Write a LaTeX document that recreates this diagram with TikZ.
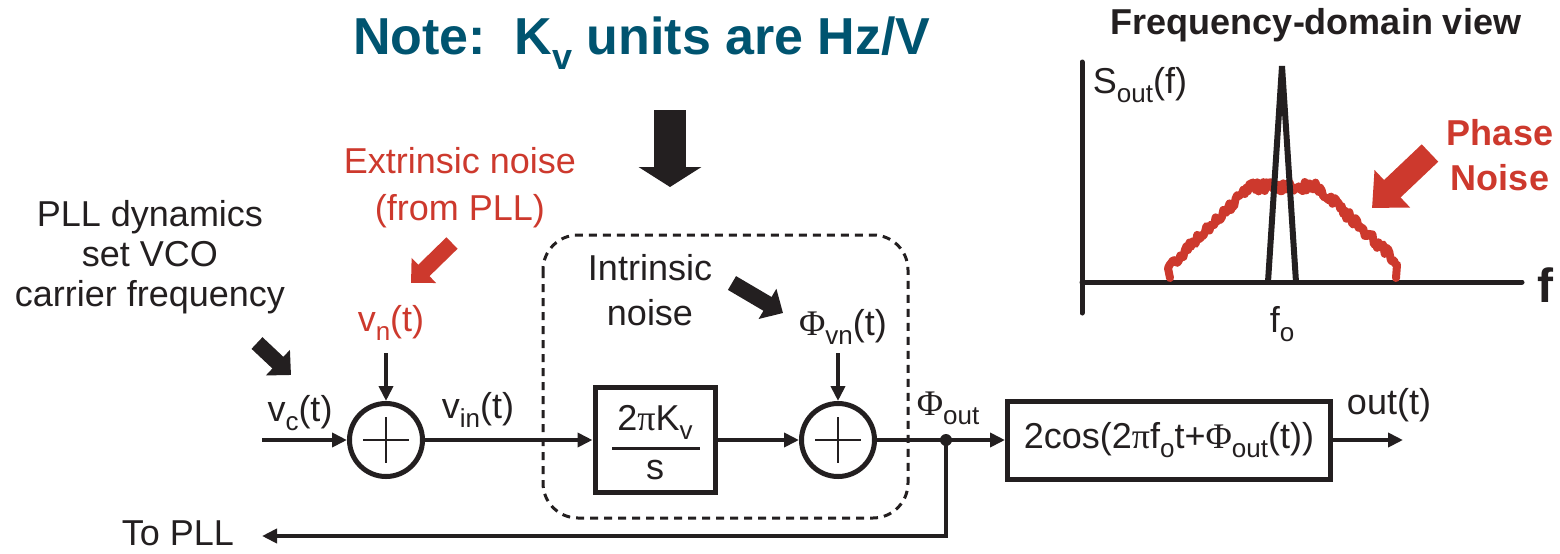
\documentclass[tikz,border=0pt]{standalone}
\usepackage{fontspec}
\setmainfont{Liberation Sans}
\newfontfamily\grk{Liberation Serif}
\usepackage{tikz}
\usetikzlibrary{arrows.meta,positioning}
\definecolor{ink}{RGB}{35,31,32}
\definecolor{noisered}{RGB}{205,57,45}
\definecolor{noteteal}{RGB}{0,84,112}
\newcommand{\sub}[1]{\raisebox{-4.5pt}{\fontsize{13}{13}\selectfont #1}}
\newcommand{\tsub}[1]{\raisebox{-7.5pt}{\fontsize{18}{18}\selectfont #1}}
\newcommand{\Phig}{{\grk Φ}}
\newcommand{\pig}{{\grk π}}

\begin{document}
\begin{tikzpicture}[
  x=0.5pt, y=-0.5pt,
  wire/.style={-{Triangle[length=7.5pt,width=7pt]}, line width=2pt, draw=ink},
  sum/.style={circle, draw=ink, line width=2.5pt, minimum size=36.5pt, inner sep=0pt},
  block/.style={draw=ink, line width=2.5pt, inner sep=0pt},
  plus/.style={line width=1pt, draw=ink},
  pointer/.style={line width=8pt, -{Triangle[length=9pt,width=17pt]}},
  bigpointer/.style={line width=16pt, -{Triangle[length=10pt,width=31pt]}},
  widepointer/.style={line width=12pt, -{Triangle[length=14pt,width=25pt]}},
  axis/.style={line width=2.5pt, draw=ink, line cap=round},
  noise/.style={line width=4pt, draw=noisered, line join=round, line cap=round},
  every node/.style={font=\fontsize{18}{20}\selectfont, text=ink}]

\useasboundingbox (0,0) rectangle (1560,553);

% ---- headings -------------------------------------------------------------
\node[anchor=base, font=\fontsize{26}{26}\bfseries\selectfont, text=noteteal]
      (note) at (642,54) {Note:\hspace{0.55em}K\tsub{v} units are Hz/V};
\node[font=\fontsize{18}{20}\bfseries\selectfont] (fdv) at (1316,25) {Frequency-domain view};

% ---- the loop, left to right ------------------------------------------------
\node[sum]   (sum1) at (386,440) {};
\node[block, minimum width=60pt, minimum height=52.5pt] (int) at (655,440) {};
\node[sum]   (sum2) at (838,440) {};
\node[block, minimum width=161.5pt, minimum height=39pt] (osc) at (1169,440)
      {2cos(2\pig f\sub{o}t+\Phig\sub{out}(t))};

\draw[plus] (sum1.center) ++(-23,0) -- ++(46,0);
\draw[plus] (sum1.center) ++(0,-23) -- ++(0,46);
\draw[plus] (sum2.center) ++(-23,0) -- ++(46,0);
\draw[plus] (sum2.center) ++(0,-23) -- ++(0,46);

% the integrator 2 pi K_v / s
\node (num) at (655,422) {2\pig K\sub{v}};
\node (den) at (655,470) {s};
\draw[line width=1.5pt, ink] (612,448) -- (700,448);

\coordinate (vcin)   at (262,440);
\coordinate (vntop)  at (386,353);
\coordinate (phitop) at (838,353);
\coordinate (jn)     at (946,440);
\coordinate (outend) at (1403,440);
\coordinate (topll)  at (262,536);

\draw[wire] (vcin) -- (sum1.west);
\draw[wire] (vntop) -- (sum1.north);
\draw[wire] (sum1.east) -- (int.west);
\draw[wire] (int.east) -- (sum2.west);
\draw[wire] (phitop) -- (sum2.north);
\draw[wire] (sum2.east) -- (osc.west);
\draw[wire] (osc.east) -- (outend);
\draw[wire] (jn) |- (topll);
\fill[ink] (jn) circle (3pt);

% the VCO itself
\draw[ink, line width=1.5pt, dash pattern=on 4pt off 3pt, rounded corners=17.5pt]
      (543,235) rectangle (908,518);

% ---- signal labels --------------------------------------------------------
\node (vclab)  at (300,413) {v\sub{c}(t)};
\node[text=noisered] (vnlab) at (391,323) {v\sub{n}(t)};
\node (vinlab) at (478,410) {v\sub{in}(t)};
\node (phvn)   at (843,327) {\Phig\sub{vn}(t)};
\node (phout)  at (948,408) {\Phig\sub{out}};
\node (outlab) at (1389,405) {out(t)};
\node (tolab)  at (178,533) {To PLL};

% ---- remarks and their pointers -------------------------------------------
\node[align=center] (pllnote) at (150,257) {PLL dynamics\\set VCO\\carrier frequency};
\node[align=center, text=noisered, font=\fontsize{18}{23.5}\selectfont]
      (extnote) at (460,188) {Extrinsic noise\\(from PLL)};
\node[align=center, font=\fontsize{18}{22.5}\selectfont]
      (intnote) at (650,290) {Intrinsic\\noise};

\coordinate (pllA) at (257,343);  \coordinate (pllB) at (291,375);
\coordinate (extA) at (452,243);  \coordinate (extB) at (411,283);
\coordinate (intA) at (732,283);  \coordinate (intB) at (783,313);
\coordinate (kvA)  at (670,110);  \coordinate (kvB)  at (670,187);
\coordinate (pnA)  at (1430,153); \coordinate (pnB)  at (1372,208);

\draw[pointer, ink]      (pllA) -- (pllB);
\draw[pointer, noisered] (extA) -- (extB);
\draw[pointer, ink]      (intA) -- (intB);
\draw[bigpointer, ink]   (kvA)  -- (kvB);

% ---- the output spectrum --------------------------------------------------
\draw[axis] (1082,62) -- (1082,313);
\draw[axis] (1082,282) -- (1522,282);
% noise skirt: two ramps and a flat top, roughened
\pgfmathsetseed{11}
\draw[noise] (1170,278) -- plot[domain=1168:1397, samples=150, variable=\fx]
      (\fx, {max(187, 268-(\fx-1168)*0.988, 262-(1397-\fx)*0.95) + 5*rand})
      -- (1396,278);
\draw[ink, line width=3pt] (1268,282) -- (1282,66) -- (1296,282);

\node (sout) at (1140,85) {S\sub{out}(f)};
\node (fo)   at (1282,324) {f\sub{o}};
\node[font=\fontsize{24}{24}\bfseries\selectfont] (faxis) at (1545,285) {f};
\node[align=center, text=noisered, font=\fontsize{18}{22.5}\bfseries\selectfont]
      (pnnote) at (1500,155) {Phase\\Noise};
\draw[widepointer, noisered] (pnA) -- (pnB);

\end{tikzpicture}
\end{document}
